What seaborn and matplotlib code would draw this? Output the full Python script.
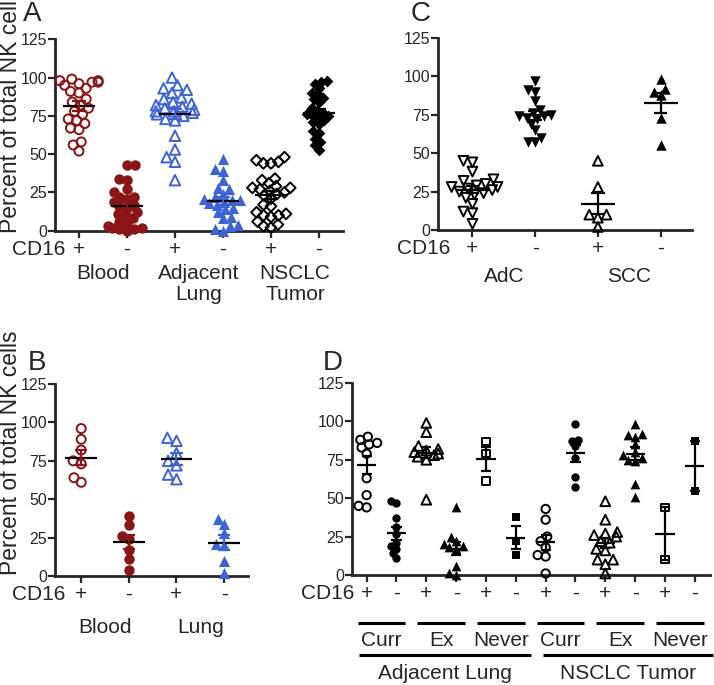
import numpy as np
import pandas as pd
import matplotlib
matplotlib.use("Agg")
import matplotlib.pyplot as plt
import seaborn as sns

sns.set_style("ticks")
plt.rcParams["font.family"] = ["Liberation Sans", "DejaVu Sans"]

RED = "#8b1414"
BLUE = "#3a64d8"
K = "black"

# ------------------------------------------------------------
# data (percent of total NK cells)
# ------------------------------------------------------------
# A: blood / adjacent lung / NSCLC tumor, CD16+ and CD16-
a_blood_pos = [99, 98, 98, 97, 97, 96, 95, 93, 91, 90, 86, 84, 82, 80, 78, 76,
               73, 72, 70, 67, 66, 58, 56, 52]
a_blood_neg = [43, 43, 34, 33, 27, 25, 22, 22, 21, 19, 17, 16, 15, 12, 11, 10,
               8, 6, 5, 3, 2, 2, 1, 1, 0]
a_lung_pos = [100, 95, 93, 92, 90, 87, 86, 84, 83, 82, 81, 80, 79, 78, 78, 77,
              76, 75, 73, 72, 62, 53, 48, 45, 33]
a_lung_neg = [47, 40, 39, 33, 28, 27, 24, 22, 21, 20, 20, 19, 18, 17, 15, 14,
              12, 9, 8, 4, 3, 1, 0]
a_tum_pos = [48, 46, 45, 44, 44, 34, 33, 31, 29, 28, 28, 27, 26, 25, 24, 23,
             21, 17, 16, 12, 11, 10, 10, 9, 6, 4, 3, 2]
a_tum_neg = [98, 97, 96, 93, 89, 90, 86, 87, 84, 80, 78, 77, 76, 75, 75, 74,
             72, 71, 70, 65, 64, 60, 58, 56, 53]
a_ticks = ["+", "-", "+", "-", "+", "-"]
a_groups = ["Blood", "Adjacent\nLung", "NSCLC\nTumor"]

# C: adenocarcinoma / squamous cell carcinoma
c_adc_pos = [45, 44, 38, 33, 32, 30, 29, 28, 28, 27, 26, 25, 24, 23, 21, 17,
             12, 11, 4]
c_adc_neg = [97, 91, 90, 84, 78, 76, 75, 74, 74, 73, 72, 69, 65, 60, 57, 57]
c_scc_pos = [45, 28, 10, 10, 8, 2]
c_scc_neg = [98, 92, 90, 88, 73, 55]
c_ticks = ["+", "-", "+", "-"]
c_groups = ["AdC", "SCC"]

# B: matched blood / lung
b_blood_pos = [96, 89, 82, 75, 73, 64, 61]
b_blood_neg = [39, 33, 26, 24, 17, 11, 4]
b_lung_pos = [90, 88, 80, 75, 72, 66, 63]
b_lung_neg = [37, 34, 28, 21, 20, 10, 2]
b_ticks = ["+", "-", "+", "-"]
b_groups = ["Blood", "Lung"]

# D: smoking status (current / ex / never) in adjacent lung and tumor
d_adj_curr_pos = [90, 88, 86, 85, 83, 79, 63, 52, 45, 44]
d_adj_curr_neg = [48, 47, 37, 31, 27, 21, 19, 17, 14, 11]
d_adj_ex_pos = [99, 93, 84, 82, 81, 80, 79, 78, 77, 75, 49]
d_adj_ex_neg = [44, 25, 22, 20, 19, 18, 17, 6, 1, 0]
d_adj_never_pos = [87, 79, 61]
d_adj_never_neg = [38, 22, 13]
d_tum_curr_pos = [43, 36, 25, 22, 18, 13, 12, 1]
d_tum_curr_neg = [98, 88, 87, 84, 76, 64, 57]
d_tum_ex_pos = [48, 36, 28, 27, 26, 25, 22, 21, 17, 16, 10, 10, 7, 1]
d_tum_ex_neg = [98, 92, 91, 90, 85, 80, 78, 76, 75, 74, 59, 51]
d_tum_never_pos = [44, 10]
d_tum_never_neg = [87, 55]
d_ticks = ["+", "-"] * 6
d_smoke = ["Curr", "Ex", "Never", "Curr", "Ex", "Never"]
d_groups = ["Adjacent Lung", "NSCLC Tumor"]

# swarm collections and the marker size they are finally shown with
swarms = []
PACK = 0.7  # swarm is laid out with smaller markers so points overlap a bit


# ------------------------------------------------------------
# helpers
# ------------------------------------------------------------
def dots(ax, vals, pos, n, marker, color, filled, size, mw, cw, ecol=K):
    order = [str(i) for i in range(n)]
    df = pd.DataFrame({"grp": order[pos], "val": vals})
    n0 = len(ax.collections)
    sns.swarmplot(data=df, x="grp", y="val", order=order, ax=ax,
                  marker=marker, size=size * PACK, color=color, linewidth=0,
                  zorder=3, warn_thresh=1)
    for c in list(ax.collections[n0:]):
        if len(c.get_offsets()) == 0:
            c.remove()  # empty categories
            continue
        if filled:
            c.set_facecolor(color)
            c.set_edgecolor(color)
            c.set_linewidth(0)
        else:
            c.set_facecolor("none")
            c.set_edgecolor(color)
            c.set_linewidth(1.4)
        c.set_clip_on(False)
        swarms.append((c, size))
    m = np.mean(vals)
    se = np.std(vals, ddof=1) / np.sqrt(len(vals))
    ax.hlines(m, pos - mw, pos + mw, color=K, lw=1.6, zorder=5)
    ax.hlines([m - se, m + se], pos - cw, pos + cw, color=ecol, lw=1.6, zorder=5)
    ax.vlines(pos, m - se, m + se, color=ecol, lw=1.6, zorder=5)


def style(ax, xlim, ticks):
    ax.set_xlim(*xlim)
    ax.set_ylim(0, 125)
    ax.set_yticks([0, 25, 50, 75, 100, 125])
    ax.set_xticks(range(len(ticks)))
    ax.set_xticklabels(ticks, fontsize=15)
    ax.tick_params(axis="x", length=5, width=1.6, pad=1.5)
    ax.tick_params(axis="y", length=5, width=1.6, labelsize=11.5, pad=0.5)
    ax.set_xlabel("")
    ax.set_ylabel("")
    for s in ["top", "right"]:
        ax.spines[s].set_visible(False)
    for s in ["left", "bottom"]:
        ax.spines[s].set_linewidth(2)


def under(ax, x, dy, s, ha="center", va="baseline", size=15):
    ax.annotate(s, xy=(x, 0), xycoords=("data", "axes fraction"),
                xytext=(0, dy), textcoords="offset pixels", ha=ha, va=va,
                fontsize=size, annotation_clip=False, linespacing=1.15)


def cd16(ax, dx):
    ax.annotate("CD16", xy=(0, 0), xycoords=("data", "axes fraction"),
                xytext=(dx, -9), textcoords="offset pixels", ha="right",
                va="top", fontsize=15, annotation_clip=False)


fig = plt.figure(figsize=(7.14, 6.85), dpi=100)
axA = fig.add_axes([0.0770, 0.6632, 0.4034, 0.2794])
axC = fig.add_axes([0.6134, 0.6642, 0.3557, 0.2807])
axB = fig.add_axes([0.0770, 0.1591, 0.2703, 0.2803])
axD = fig.add_axes([0.4926, 0.1606, 0.5014, 0.2803])

# ---- A ----
dots(axA, a_blood_pos, 0, 6, "o", RED, False, 6.5, 0.33, 0.15, RED)
dots(axA, a_blood_neg, 1, 6, "o", RED, True, 7.5, 0.33, 0.15, RED)
dots(axA, a_lung_pos, 2, 6, "^", BLUE, False, 7.5, 0.33, 0.15, BLUE)
dots(axA, a_lung_neg, 3, 6, "^", BLUE, True, 8, 0.33, 0.15, BLUE)
dots(axA, a_tum_pos, 4, 6, "D", K, False, 5.5, 0.33, 0.15)
dots(axA, a_tum_neg, 5, 6, "D", K, True, 6, 0.33, 0.15)
style(axA, (-0.5, 5.5), a_ticks)
cd16(axA, -14)
for i, g in enumerate(a_groups):
    under(axA, 2 * i + 0.5, -33, g, va="top")

# ---- C ----
dots(axC, c_adc_pos, 0, 4, "v", K, False, 7, 0.27, 0.11)
dots(axC, c_adc_neg, 1, 4, "v", K, True, 7.5, 0.27, 0.11)
dots(axC, c_scc_pos, 2, 4, "^", K, False, 7, 0.27, 0.11)
dots(axC, c_scc_neg, 3, 4, "^", K, True, 7.5, 0.27, 0.11)
style(axC, (-0.55, 3.5), c_ticks)
cd16(axC, -22)
for i, g in enumerate(c_groups):
    under(axC, 2 * i + 0.5, -52, g)

# ---- B ----
dots(axB, b_blood_pos, 0, 4, "o", RED, False, 6.5, 0.33, 0.13, RED)
dots(axB, b_blood_neg, 1, 4, "o", RED, True, 7.5, 0.33, 0.13, RED)
dots(axB, b_lung_pos, 2, 4, "^", BLUE, False, 7.5, 0.33, 0.13, BLUE)
dots(axB, b_lung_neg, 3, 4, "^", BLUE, True, 8, 0.33, 0.13, BLUE)
style(axB, (-0.55, 3.5), b_ticks)
cd16(axB, -16)
for i, g in enumerate(b_groups):
    under(axB, 2 * i + 0.5, -57, g)

# ---- D ----
d_series = [
    (d_adj_curr_pos, "o", False), (d_adj_curr_neg, "o", True),
    (d_adj_ex_pos, "^", False), (d_adj_ex_neg, "^", True),
    (d_adj_never_pos, "s", False), (d_adj_never_neg, "s", True),
    (d_tum_curr_pos, "o", False), (d_tum_curr_neg, "o", True),
    (d_tum_ex_pos, "^", False), (d_tum_ex_neg, "^", True),
    (d_tum_never_pos, "s", False), (d_tum_never_neg, "s", True),
]
for i, (vals, mk, filled) in enumerate(d_series):
    sz = {"o": 6, "^": 7, "s": 5.5}[mk]
    dots(axD, vals, i, 12, mk, K, filled, sz, 0.32, 0.17)
style(axD, (-0.5, 11.5), d_ticks)
cd16(axD, -12)
tr = axD.get_xaxis_transform()
for i, s in enumerate(d_smoke):
    axD.plot([2 * i - 0.3, 2 * i + 1.3], [-0.25, -0.25], color=K, lw=2.2,
             transform=tr, clip_on=False, solid_capstyle="butt")
    under(axD, 2 * i + 0.5, -71, s)
for x0, x1, g in [(-0.25, 5.5, d_groups[0]), (5.9, 11.6, d_groups[1])]:
    axD.plot([x0, x1], [-0.417, -0.417], color=K, lw=2.2, transform=tr,
             clip_on=False, solid_capstyle="butt")
    under(axD, (x0 + x1) / 2, -104, g)

# y labels and panel letters
fig.text(0.0145, 0.660, "Percent of total NK cells", rotation=90,
         ha="center", va="bottom", fontsize=16.5)
fig.text(0.0145, 0.161, "Percent of total NK cells", rotation=90,
         ha="center", va="bottom", fontsize=16.5)
fig.text(0.032, 0.999, "A", ha="left", va="top", fontsize=20)
fig.text(0.575, 0.999, "C", ha="left", va="top", fontsize=20)
fig.text(0.039, 0.489, "B", ha="left", va="top", fontsize=20)
fig.text(0.452, 0.489, "D", ha="left", va="top", fontsize=20)

# run the swarm layout once, then keep the positions and show full-size markers
fig.canvas.draw()
for c, size in swarms:
    c.__dict__.pop("draw", None)
    c.set_sizes([size ** 2])

fig.savefig("out.png", dpi=100)
